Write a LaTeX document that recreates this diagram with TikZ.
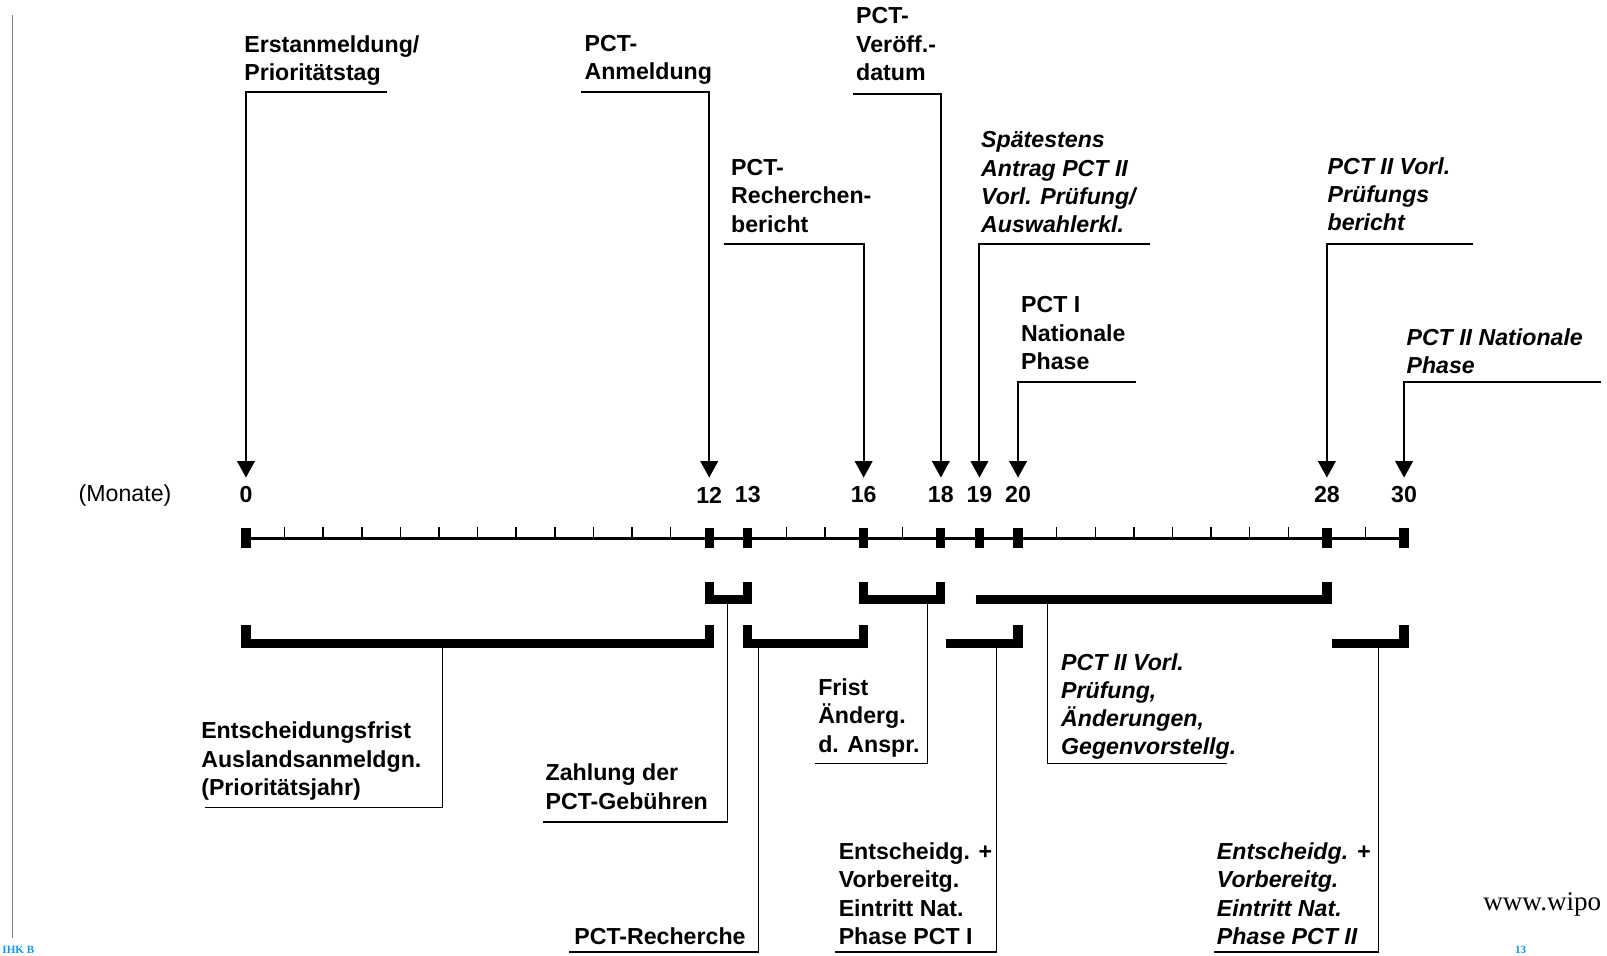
\documentclass[tikz,border=0pt]{standalone}
\usepackage{fontspec}
\setmainfont{Liberation Sans}
\newfontfamily\webfont{Liberation Serif}
\usetikzlibrary{arrows.meta}

\definecolor{footblue}{RGB}{20,150,230}
\newcommand{\lblfont}{\fontsize{11.3}{13.8}\selectfont\bfseries}

\tikzset{
  lbl/.style={font=\lblfont, align=left, anchor=north west, inner sep=0pt},
  ilbl/.style={lbl, font=\lblfont\itshape},
  num/.style={font=\lblfont, inner sep=0pt},
  pin/.style={line width=1pt, -{Triangle[length=8pt,width=8.5pt]}},
  feed/.style={line width=0.65pt},
  brk/.style={line width=4.5pt, line join=miter},
  foot/.style={font=\webfont\fontsize{5.4}{6}\selectfont\bfseries, text=footblue, anchor=base west, inner sep=0pt},
}

\begin{document}
\begin{tikzpicture}[x=0.5pt, y=-0.5pt]
  \useasboundingbox (0,0) rectangle (1568,932);
  %\draw[very thin,lightgray] (0,0) grid[step=100] (1568,932);
  \draw[gray, line width=0.7pt] (12,15) -- (12,915);

  % Zeitachse
  \foreach \i in {0,...,30} {
    \coordinate (m\i) at ({240+37.667*\i},525);
    \coordinate (t\i) at ({240+37.667*\i},466);
  }
  \coordinate (r1t) at (0,568); \coordinate (r1b) at (0,585);
  \coordinate (r2t) at (0,610); \coordinate (r2b) at (0,628);

  \draw[line width=1.5pt] (m0) -- (m30);
  \foreach \i in {1,2,3,4,5,6,7,8,9,10,11,14,15,17,21,22,23,24,25,26,27,29}
    \draw[line width=0.7pt] (m\i) -- ++(0,-11);
  \foreach \i in {0,12,13,16,18,19,20,28,30} {
    \fill ([shift={(-4.5,-10)}]m\i) rectangle ([shift={(4.5,10)}]m\i);
    \node[num] (n\i) at ([shift={(0,-42)}]m\i) {\i};
  }
  \node[font=\fontsize{11.3}{13.8}\selectfont, inner sep=0pt] (einheit) at (122,483) {(Monate)};

  % oben
  \node[lbl] (erst) at (238,34) {Erstanmeldung/\\Prioritätstag};
  \coordinate (erst-r) at (378,90);
  \draw[pin] (erst-r) -| (t0);

  \node[lbl] (anm) at (570,34) {PCT-\\Anmeldung};
  \coordinate (anm-l) at (567,90);
  \draw[pin] (anm-l) -| (t12);

  \node[lbl] (veroeff) at (835,7) {PCT-\\Veröff.-\\datum};
  \coordinate (veroeff-l) at (832,92);
  \draw[pin] (veroeff-l) -| (t18);

  \node[lbl] (rber) at (713,155) {PCT-\\Recherchen-\\bericht};
  \coordinate (rber-l) at (706,238);
  \draw[pin] (rber-l) -| (t16);

  \node[ilbl] (antrag) at (957,128) {Spätestens\\Antrag PCT II\\Vorl. Prüfung/\\Auswahlerkl.};
  \coordinate (antrag-r) at (1122,238);
  \draw[pin] (antrag-r) -| (t19);

  \node[lbl] (nat1) at (996,289) {PCT I\\Nationale\\Phase};
  \coordinate (nat1-r) at (1108,373);
  \draw[pin] (nat1-r) -| (t20);

  \node[ilbl] (pbericht) at (1295,153) {PCT II Vorl.\\Prüfungs\\bericht};
  \coordinate (pbericht-r) at (1437,238);
  \draw[pin] (pbericht-r) -| (t28);

  \node[ilbl] (nat2) at (1372,320) {PCT II Nationale\\Phase};
  \coordinate (nat2-r) at (1562,373);
  \draw[pin] (nat2-r) -| (t30);

  % Fristen
  \draw[brk] (m12 |- r1t) |- (m13 |- r1b) -- (m13 |- r1t);
  \draw[brk] (m16 |- r1t) |- (m18 |- r1b) -- (m18 |- r1t);
  \coordinate (vorl-a) at (952,585);
  \draw[brk] (vorl-a) -| (m28 |- r1t);
  \draw[brk] (m0 |- r2t) |- (m12 |- r2b) -- (m12 |- r2t);
  \draw[brk] (m13 |- r2t) |- (m16 |- r2b) -- (m16 |- r2t);
  \coordinate (ein1-a) at (923,628);
  \draw[brk] (ein1-a) -| (m20 |- r2t);
  \coordinate (ein2-a) at (1300,628);
  \draw[brk] (ein2-a) -| (m30 |- r2t);

  % unten
  \node[lbl] (efrist) at (196,704) {Entscheidungsfrist\\Auslandsanmeldgn.\\(Prioritätsjahr)};
  \coordinate (efrist-t) at (432,632); \coordinate (efrist-l) at (200,788);
  \draw[feed] (efrist-t) |- (efrist-l);

  \node[lbl] (zahl) at (532,745) {Zahlung der\\PCT-Gebühren};
  \coordinate (zahl-t) at (710,589); \coordinate (zahl-l) at (530,802);
  \draw[feed] (zahl-t) |- (zahl-l);

  \node[lbl] (rech) at (560,905) {PCT-Recherche};
  \coordinate (rech-t) at (740,632); \coordinate (rech-l) at (555,929);
  \draw[feed] (rech-t) |- (rech-l);

  \node[lbl] (frist) at (798,662) {Frist\\Änderg.\\d. Anspr.};
  \coordinate (frist-t) at (905,589); \coordinate (frist-l) at (795,745);
  \draw[feed] (frist-t) |- (frist-l);

  \node[ilbl] (pruef) at (1035,637) {PCT II Vorl.\\Prüfung,\\Änderungen,\\Gegenvorstellg.};
  \coordinate (pruef-t) at (1022,589); \coordinate (pruef-r) at (1197,745);
  \draw[feed] (pruef-t) |- (pruef-r);

  \node[lbl] (eintr1) at (818,822) {Entscheidg. +\\Vorbereitg.\\Eintritt Nat.\\Phase PCT I};
  \coordinate (eintr1-t) at (972,632); \coordinate (eintr1-l) at (815,929);
  \draw[feed] (eintr1-t) |- (eintr1-l);

  \node[ilbl] (eintr2) at (1187,822) {Entscheidg. +\\Vorbereitg.\\Eintritt Nat.\\Phase PCT II};
  \coordinate (eintr2-t) at (1345,632); \coordinate (eintr2-l) at (1185,929);
  \draw[feed] (eintr2-t) |- (eintr2-l);

  % Folienrand
  \node[font=\webfont\fontsize{13.2}{16}\selectfont, anchor=base west, inner sep=0pt] (web) at (1447,888) {www.wipo};
  \node[foot] (fuss) at (2,930) {IHK B};
  \node[foot] (seite) at (1478,930) {13};
\end{tikzpicture}
\end{document}
